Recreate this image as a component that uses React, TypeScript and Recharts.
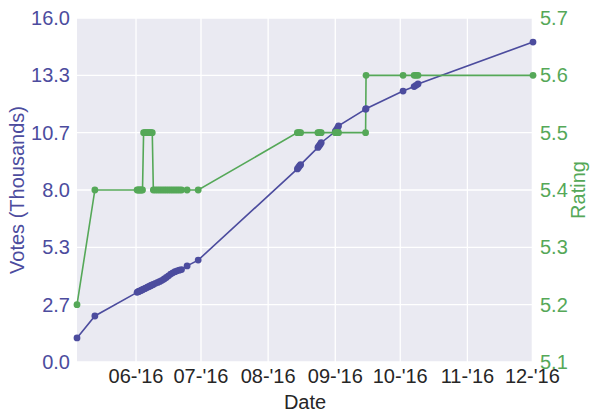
import { ComposedChart, Line, XAxis, YAxis, CartesianGrid } from 'recharts';

// snapshot dates (UTC), cumulative votes in thousands, and rating
const dates = [
  '2016-05-04 18:00', '2016-05-13 00:00',
  '2016-06-01 12:00', '2016-06-02 00:00', '2016-06-02 12:00', '2016-06-03 00:00',
  '2016-06-03 12:00', '2016-06-04 00:00', '2016-06-04 12:00', '2016-06-05 00:00',
  '2016-06-05 12:00', '2016-06-06 00:00', '2016-06-06 12:00', '2016-06-07 00:00',
  '2016-06-07 12:00', '2016-06-08 00:00', '2016-06-08 12:00', '2016-06-09 00:00',
  '2016-06-10 00:00', '2016-06-11 00:00', '2016-06-12 00:00', '2016-06-13 00:00',
  '2016-06-14 00:00', '2016-06-15 00:00', '2016-06-16 00:00', '2016-06-17 00:00',
  '2016-06-18 00:00', '2016-06-19 00:00', '2016-06-20 00:00', '2016-06-21 00:00',
  '2016-06-22 00:00', '2016-06-24 14:00', '2016-06-29 17:00',
  '2016-08-14 12:00', '2016-08-15 00:00', '2016-08-15 12:00', '2016-08-16 00:00',
  '2016-08-24 00:00', '2016-08-24 12:00', '2016-08-25 00:00', '2016-08-25 12:00',
  '2016-09-01 00:00', '2016-09-01 12:00', '2016-09-02 00:00', '2016-09-02 12:00',
  '2016-09-15 00:00', '2016-09-15 05:00',
  '2016-10-02 07:00', '2016-10-07 10:00', '2016-10-08 07:00', '2016-10-09 05:00',
  '2016-12-01 07:00',
];

const votes = [
  1.12, 2.14,
  3.24, 3.27, 3.29, 3.31,
  3.34, 3.36, 3.39, 3.41,
  3.44, 3.46, 3.49, 3.51,
  3.54, 3.56, 3.59, 3.61,
  3.66, 3.70, 3.75, 3.80,
  3.86, 3.93, 4.01, 4.09,
  4.15, 4.20, 4.24, 4.27,
  4.30, 4.47, 4.74,
  8.98, 9.05, 9.12, 9.18,
  9.98, 10.05, 10.12, 10.20,
  10.72, 10.80, 10.88, 10.98,
  11.76, 11.78,
  12.60, 12.81, 12.87, 12.93,
  14.88,
];

const ratings = [
  5.2, 5.4,
  5.4, 5.4, 5.4, 5.4,
  5.4, 5.4, 5.5, 5.5,
  5.5, 5.5, 5.5, 5.5,
  5.5, 5.5, 5.5, 5.4,
  5.4, 5.4, 5.4, 5.4,
  5.4, 5.4, 5.4, 5.4,
  5.4, 5.4, 5.4, 5.4,
  5.4, 5.4, 5.4,
  5.5, 5.5, 5.5, 5.5,
  5.5, 5.5, 5.5, 5.5,
  5.5, 5.5, 5.5, 5.5,
  5.5, 5.6,
  5.6, 5.6, 5.6, 5.6,
  5.6,
];

const monthTicks = ['2016-06-01', '2016-07-01', '2016-08-01', '2016-09-01', '2016-10-01', '2016-11-01', '2016-12-01'];
const monthLabels = ["06-'16", "07-'16", "08-'16", "09-'16", "10-'16", "11-'16", "12-'16"];
const voteTicks = [0, 8 / 3, 16 / 3, 8, 32 / 3, 40 / 3, 16];
const ratingTicks = [5.1, 5.2, 5.3, 5.4, 5.5, 5.6, 5.7];

const toTime = (s: string) => {
  const [day, time = '00:00'] = s.split(' ');
  const [y, m, d] = day.split('-').map(Number);
  const [h, mi] = time.split(':').map(Number);
  return Date.UTC(y, m - 1, d, h, mi);
};

const data = dates.map((s, i) => ({ t: toTime(s), votes: votes[i], rating: ratings[i] }));
const tickTimes = monthTicks.map(toTime);

const BLUE = '#4c4c9e';
const GREEN = '#55a858';
const FONT = '"Liberation Sans", Arial, sans-serif';
const FS = 20;

const LeftLabel = (props: any) => {
  const vb = props.viewBox;
  const cy = vb.y + vb.height / 2;
  return (
    <text x={17} y={cy} transform={`rotate(-90 17 ${cy})`} textAnchor="middle" dominantBaseline="central"
      fill={BLUE} fontSize={FS} fontFamily={FONT}>
      Votes (Thousands)
    </text>
  );
};

const RightLabel = (props: any) => {
  const vb = props.viewBox;
  const cy = vb.y + vb.height / 2;
  return (
    <text x={578} y={cy} transform={`rotate(-90 578 ${cy})`} textAnchor="middle" dominantBaseline="central"
      fill={GREEN} fontSize={FS} fontFamily={FONT}>
      Rating
    </text>
  );
};

export default function App() {
  return (
    <div style={{ position: 'absolute', left: 0, top: 0, width: 600, height: 420, background: '#fff' }}>
      <ComposedChart width={600} height={420} data={data} margin={{ top: 18, right: 0, bottom: 0, left: 0 }}>
        <CartesianGrid yAxisId="left" fill="#eaeaf2" stroke="#ffffff" strokeWidth={1.3}
          horizontalValues={voteTicks} verticalValues={tickTimes} />
        <XAxis
          dataKey="t"
          type="number"
          scale="time"
          domain={['dataMin', 'dataMax']}
          ticks={tickTimes}
          tickFormatter={(v: number) => monthLabels[tickTimes.indexOf(v)] ?? ''}
          axisLine={false}
          tickLine={false}
          tickSize={0}
          tickMargin={7}
          height={58}
          interval={0}
          tick={{ fill: '#262626', fontSize: FS, fontFamily: FONT }}
          label={{ value: 'Date', position: 'insideBottom', offset: 11, fill: '#262626', fontSize: FS, fontFamily: FONT }}
        />
        <YAxis
          yAxisId="left"
          orientation="left"
          domain={[0, 16]}
          ticks={voteTicks}
          tickFormatter={(v: number) => v.toFixed(1)}
          axisLine={false}
          tickLine={false}
          tickSize={0}
          tickMargin={7}
          width={77}
          interval={0}
          tick={{ fill: BLUE, fontSize: FS, fontFamily: FONT }}
          label={<LeftLabel />}
        />
        <YAxis
          yAxisId="right"
          orientation="right"
          domain={[5.1, 5.7]}
          ticks={ratingTicks}
          tickFormatter={(v: number) => v.toFixed(1)}
          axisLine={false}
          tickLine={false}
          tickSize={0}
          tickMargin={7}
          width={67}
          interval={0}
          tick={{ fill: GREEN, fontSize: FS, fontFamily: FONT }}
          label={<RightLabel />}
        />
        <Line yAxisId="left" dataKey="votes" type="linear" stroke={BLUE} strokeWidth={1.6}
          dot={{ r: 3.4, fill: BLUE, stroke: BLUE, strokeWidth: 0 }} isAnimationActive={false} />
        <Line yAxisId="right" dataKey="rating" type="linear" stroke={GREEN} strokeWidth={1.6}
          dot={{ r: 3.4, fill: GREEN, stroke: GREEN, strokeWidth: 0 }} isAnimationActive={false} />
      </ComposedChart>
    </div>
  );
}
